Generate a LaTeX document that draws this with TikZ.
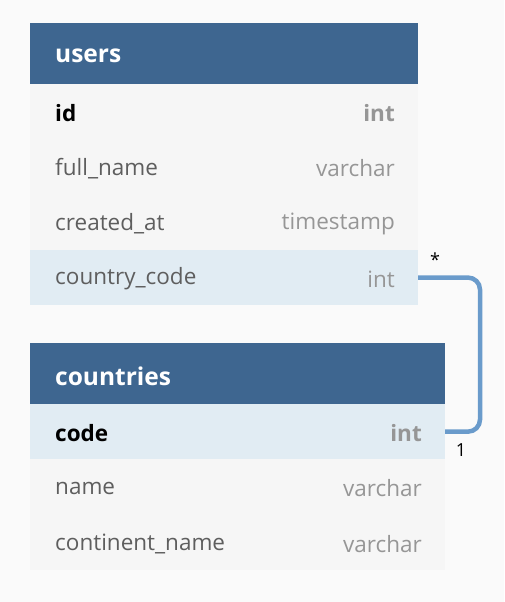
\documentclass[tikz,border=0pt]{standalone}
\usepackage{fontspec}
\setmainfont{Open Sans}
\definecolor{bgc}{HTML}{FAFAFA}
\definecolor{hdrc}{HTML}{3E6690}
\definecolor{rowc}{HTML}{F6F6F6}
\definecolor{hlc}{HTML}{E1ECF3}
\definecolor{namec}{HTML}{5E5E5E}
\definecolor{typec}{HTML}{969696}
\definecolor{connc}{HTML}{6A9BCB}
\begin{document}
\begin{tikzpicture}[x=1pt,y=-1pt,
  box/.style={anchor=north west, inner sep=0pt, outer sep=0pt, draw=none, minimum height=55.3pt},
  hdr/.style={box, fill=hdrc, minimum height=61pt},
  row/.style={box, fill=rowc},
  hlrow/.style={box, fill=hlc},
  title/.style={anchor=west, inner sep=0pt, yshift=-2.5pt, text=white, font=\fontsize{24.5}{28}\selectfont\bfseries},
  fname/.style={anchor=west, inner sep=0pt, yshift=-1.5pt, text=namec, font=\fontsize{22.5}{26}\selectfont},
  ftype/.style={anchor=east, inner sep=0pt, yshift=-1.5pt, text=typec, font=\fontsize{22.5}{26}\selectfont},
  pkname/.style={fname, text=black, font=\fontsize{22.5}{26}\selectfont\bfseries},
  pktype/.style={ftype, font=\fontsize{22.5}{26}\selectfont\bfseries},
  conn/.style={draw=connc, line width=4.5pt, rounded corners=12pt},
  card/.style={inner sep=0pt, text=black, font=\fontsize{18}{20}\selectfont}
]
\useasboundingbox[fill=bgc] (0,0) rectangle (504,602);
% users
\node[hdr, minimum width=388pt] (uh) at (30,23) {};
\node[row, minimum width=388pt] (uid) at (30,84) {};
\node[row, minimum width=388pt] (ufn) at (30,139.3) {};
\node[row, minimum width=388pt] (uca) at (30,194.6) {};
\node[hlrow, minimum width=388pt] (ucc) at (30,249.9) {};
\node[title] (uht) at ([xshift=25pt]uh.west) {users};
\node[pkname] (uidn) at ([xshift=25pt]uid.west) {id};
\node[pktype] (uidt) at ([xshift=-23pt]uid.east) {int};
\node[fname] (ufnn) at ([xshift=25pt]ufn.west) {full\_name};
\node[ftype] (ufnt) at ([xshift=-23pt]ufn.east) {varchar};
\node[fname] (ucan) at ([xshift=25pt]uca.west) {created\_at};
\node[ftype] (ucat) at ([xshift=-23pt]uca.east) {timestamp};
\node[fname] (uccn) at ([xshift=25pt]ucc.west) {country\_code};
\node[ftype] (ucct) at ([xshift=-23pt]ucc.east) {int};
% countries
\node[hdr, minimum width=415pt] (ch) at (30,343) {};
\node[hlrow, minimum width=415pt] (ccode) at (30,404) {};
\node[row, minimum width=415pt] (cname) at (30,459.3) {};
\node[row, minimum width=415pt] (ccont) at (30,514.6) {};
\node[title] (cht) at ([xshift=25pt]ch.west) {countries};
\node[pkname] (ccoden) at ([xshift=25pt]ccode.west) {code};
\node[pktype] (ccodet) at ([xshift=-23pt]ccode.east) {int};
\node[fname] (cnamen) at ([xshift=25pt]cname.west) {name};
\node[ftype] (cnamet) at ([xshift=-23pt]cname.east) {varchar};
\node[fname] (ccontn) at ([xshift=25pt]ccont.west) {continent\_name};
\node[ftype] (ccontt) at ([xshift=-23pt]ccont.east) {varchar};
% connector
\coordinate (bend) at (480,0);
\draw[conn] (ucc.east) -- (ucc.east -| bend) -- (ccode.east -| bend) -- (ccode.east);
\node[card] (many) at (435,260) {*};
\node[card] (one) at (461,450) {1};
\end{tikzpicture}
\end{document}
